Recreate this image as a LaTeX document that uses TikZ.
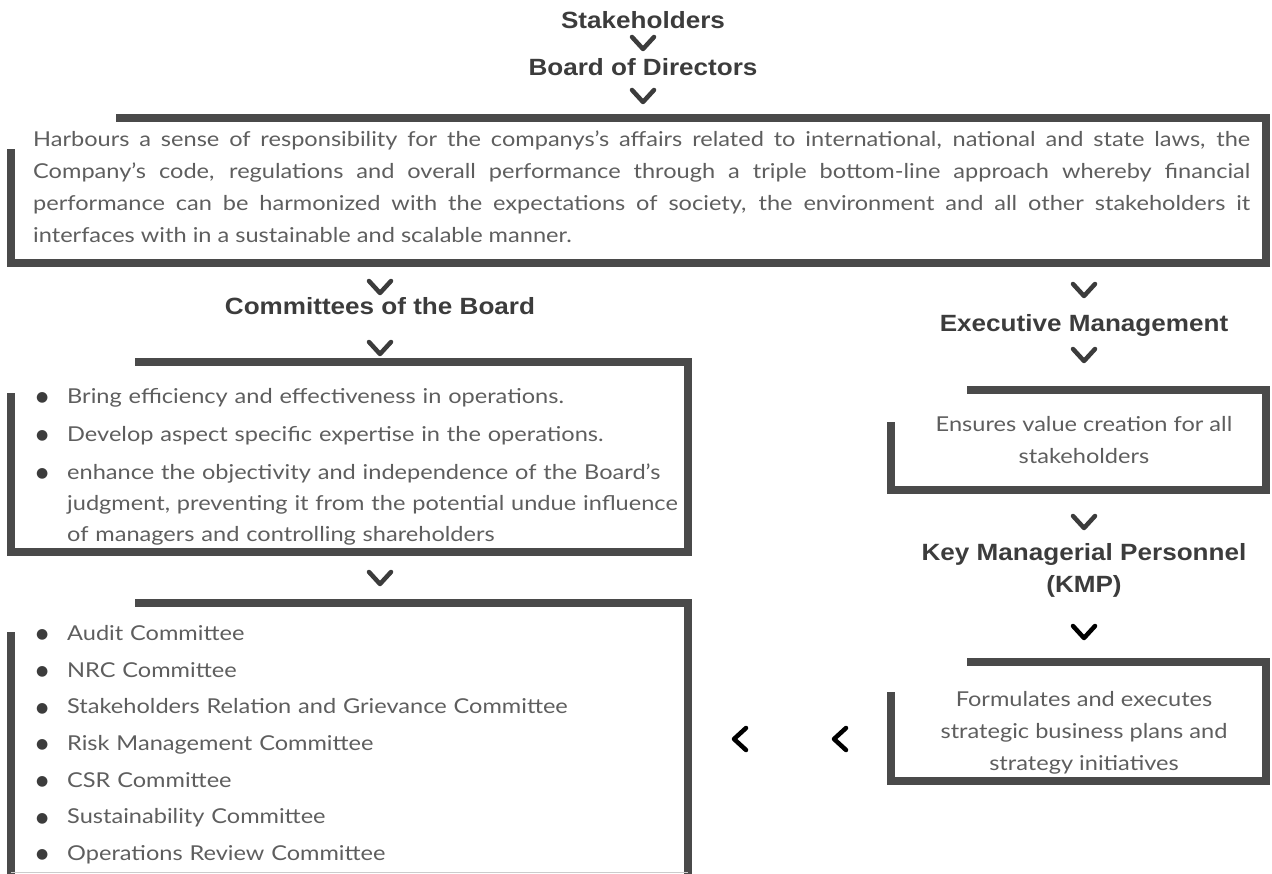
\documentclass[tikz,border=0pt]{standalone}
\usepackage{fontspec}
\setmainfont{Lato}[FakeStretch=1.15]
\newfontfamily\ttlfont{Liberation Sans}[FakeStretch=1.11]
\newfontfamily\dejavu{DejaVu Sans}
\definecolor{framec}{HTML}{4A4A4A}
\definecolor{txtc}{HTML}{5E5E5E}
\definecolor{ttlc}{HTML}{3C3C3C}
\newcommand\bulletmark{\makebox[34pt][l]{\hspace{3pt}\raisebox{1.5pt}{\dejavu\fontsize{14}{14}\selectfont\textcolor{ttlc}{●}}}}
\newcommand\bitem[1]{\noindent\hangindent=34pt\hangafter=1\bulletmark#1\par}
\newcommand\myframe[6]{%
  \draw[frameline] (#5,#2+4) -- (#3-4,#2+4) -- (#3-4,#4-4) -- (#1+4,#4-4) -- (#1+4,#6);}
\tikzset{
  frameline/.style={line width=8.5pt, draw=framec, line join=miter},
  chev/.style={line width=4.5pt, line cap=round, line join=round, draw=ttlc},
  chevk/.style={chev, draw=black},
  vdown/.pic={\draw[chev] (-11,-6) -- (0,6) -- (11,-6);},
  vdownk/.pic={\draw[chevk] (-11,-6) -- (0,6) -- (11,-6);},
  vleftk/.pic={\draw[chevk] (6,-11) -- (-6,0) -- (6,11);},
  ttl/.style={font=\ttlfont\fontsize{23.5}{32}\selectfont\bfseries, text=ttlc, inner sep=0, align=center},
  body/.style={font=\fontsize{20.5}{32}\selectfont, text=txtc, inner sep=0},
}
\begin{document}
\begin{tikzpicture}[x=1pt,y=-1pt]
\useasboundingbox (0,0) rectangle (1272,874);
% titles
\node[ttl, anchor=base] (stake) at (643,29) {Stakeholders};
\node[ttl, anchor=base] (bod) at (643,76) {Board of Directors};
\pic at (643,43) {vdown};
\pic at (643,96) {vdown};
% box 1
\myframe{7}{114}{1270}{267}{116}{149}
\node[body, anchor=north west, text width=1217, align=justify] (resp) at (33,131)
 {\hyphenpenalty=10000 Harbours a sense of responsibility for the companys's affairs related to international, national and state laws, the\linebreak
 Company’s code, regulations and overall performance through a triple bottom-line approach whereby financial\linebreak
 performance can be harmonized with the expectations of society, the environment and all other stakeholders it\linebreak
 interfaces with in a sustainable and scalable manner.};
% left column
\pic at (380,287) {vdown};
\node[ttl, anchor=base] (cob) at (380,315) {Committees of the Board};
\pic at (380,348) {vdown};
\myframe{7}{358}{692}{556}{135}{393}
\node[body, anchor=north west, text width=645, font=\fontsize{20.5}{31}\selectfont] (cobtext) at (33,388)
 {\parskip=7pt\raggedright
 \bitem{Bring efficiency and effectiveness in operations.}
 \bitem{Develop aspect specific expertise in the operations.}
 \bitem{enhance the objectivity and independence of the Board’s\newline judgment, preventing it from the potential undue influence\newline of managers and controlling shareholders}};
\pic at (380,578) {vdown};
\myframe{7}{599}{692}{884}{135}{632}
\draw[draw=gray!40, line width=1pt] (11,872) -- (688,872);
\node[body, anchor=north west, text width=645, font=\fontsize{20.5}{30.7}\selectfont] (comlist) at (33,625)
 {\parskip=6pt\raggedright
 \bitem{Audit Committee}
 \bitem{NRC Committee}
 \bitem{Stakeholders Relation and Grievance Committee}
 \bitem{Risk Management Committee}
 \bitem{CSR Committee}
 \bitem{Sustainability Committee}
 \bitem{Operations Review Committee}};
% right column
\pic at (1084,290) {vdown};
\node[ttl, anchor=base] (exec) at (1084,332) {Executive Management};
\pic at (1084,355) {vdown};
\myframe{887}{386}{1270}{494}{967}{422}
\node[body, align=center] (value) at (1084,440) {Ensures value creation for all\\stakeholders};
\pic at (1084,522) {vdown};
\node[ttl] (kmp) at (1084,570) {Key Managerial Personnel\\(KMP)};
\pic at (1084,632) {vdownk};
\myframe{887}{658}{1270}{785}{967}{692}
\node[body, align=center] (formul) at (1084,733) {Formulates and executes\\strategic business plans and\\strategy initiatives};
\pic at (840,739) {vleftk};
\pic at (740,739) {vleftk};
\end{tikzpicture}
\end{document}
